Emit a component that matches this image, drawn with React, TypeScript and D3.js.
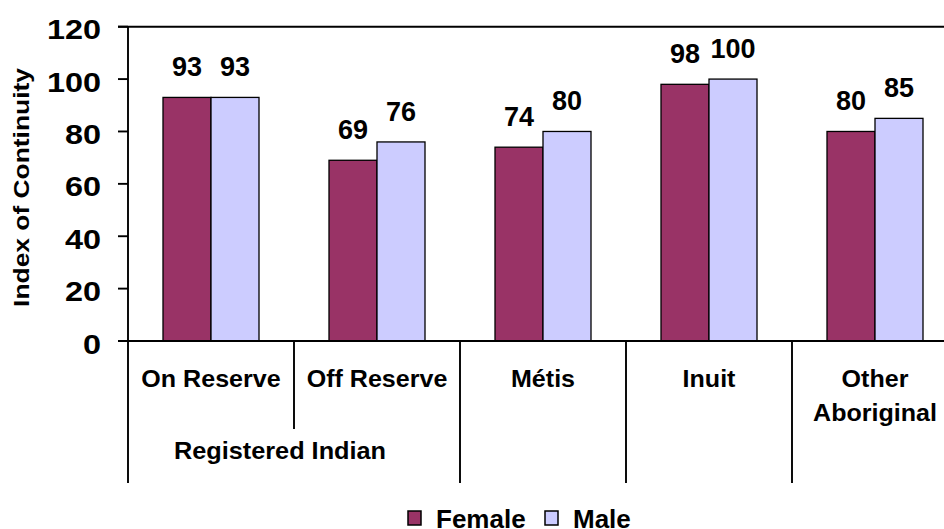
import React from "react";
import * as d3 from "d3";

// Categories along the x axis (multi-line labels split on "\n")
const categories = ["On Reserve", "Off Reserve", "Métis", "Inuit", "Other\nAboriginal"];
const groupLabel = "Registered Indian";
const seriesNames = ["Female", "Male"];
const femaleValues = [93, 69, 74, 98, 80];
const maleValues = [93, 76, 80, 100, 85];
const yTicks = [0, 20, 40, 60, 80, 100, 120];
const yTitle = "Index of Continuity";

const colors: Record<string, string> = { Female: "#993366", Male: "#CCCCFF" };

const W = 944;
const H = 529;
const FONT = "'Liberation Sans', Arial, Helvetica, sans-serif";

export default function App() {
  const plotLeft = 128;
  const plotRight = 958;
  const plotTop = 26.7;
  const plotBottom = 341;

  const x = d3.scaleBand<string>().domain(categories).range([plotLeft, plotRight]).paddingInner(0).paddingOuter(0);
  const xSub = d3.scaleBand<string>().domain(seriesNames).range([35, 131]);
  const y = d3.scaleLinear().domain([0, 120]).range([plotBottom, plotTop]);

  const seriesValues: Record<string, number[]> = { Female: femaleValues, Male: maleValues };
  const lineW = 1.9;

  // category boundaries, used for the separators under the axis
  const boundaries = categories.map((c) => x(c) as number);

  return (
    <svg
      width={W}
      height={H}
      style={{ position: "absolute", left: 0, top: 0, background: "#fff" }}
      fontFamily={FONT}
      fontWeight="bold"
    >
      <rect x={0} y={0} width={W} height={H} fill="#fff" />

      {/* bars with value labels */}
      {categories.map((c, i) =>
        seriesNames.map((s) => {
          const v = seriesValues[s][i];
          const bx = (x(c) as number) + (xSub(s) as number);
          const bw = xSub.bandwidth();
          return (
            <g key={c + s}>
              <rect
                x={bx}
                y={y(v)}
                width={bw}
                height={y(0) - y(v)}
                fill={colors[s]}
                stroke="#000"
                strokeWidth={1.3}
              />
              <text x={bx + bw / 2} y={y(v) - 21} textAnchor="middle" fontSize={27} fill="#000">
                {v}
              </text>
            </g>
          );
        })
      )}

      {/* frame top line and baseline */}
      <line x1={118} x2={W} y1={y(120)} y2={y(120)} stroke="#000" strokeWidth={lineW} />
      <line x1={118} x2={W} y1={y(0)} y2={y(0)} stroke="#000" strokeWidth={lineW} />
      {/* y axis */}
      <line x1={plotLeft} x2={plotLeft} y1={y(120)} y2={y(0)} stroke="#000" strokeWidth={lineW} />
      {yTicks.map((t) => (
        <g key={t}>
          <line x1={118} x2={plotLeft} y1={y(t)} y2={y(t)} stroke="#000" strokeWidth={lineW} />
          <text
            transform={`translate(101, ${y(t) + 12.5}) scale(1.2,1)`}
            textAnchor="end"
            fontSize={27}
            fill="#000"
          >
            {t}
          </text>
        </g>
      ))}

      {/* y axis title */}
      <text
        transform={`translate(28.5, 187.5) rotate(-90) scale(1.2,1)`}
        textAnchor="middle"
        fontSize={22}
        fill="#000"
      >
        {yTitle}
      </text>

      {/* category separators below the axis */}
      {boundaries.map((bx, i) => (
        <line
          key={"sep" + i}
          x1={bx}
          x2={bx}
          y1={y(0)}
          y2={i === 1 ? 429 : 483}
          stroke="#000"
          strokeWidth={lineW}
        />
      ))}

      {/* category labels */}
      {categories.map((c) => {
        const cx = (x(c) as number) + x.bandwidth() / 2;
        const lines = c.split("\n");
        return (
          <g key={"lab" + c}>
            {lines.map((ln, j) => (
              <text
                key={j}
                transform={`translate(${cx}, ${387 + j * 33.7}) scale(1.09,1)`}
                textAnchor="middle"
                fontSize={23}
                fill="#000"
              >
                {ln}
              </text>
            ))}
          </g>
        );
      })}

      {/* group label spanning the first two categories */}
      <text
        transform={`translate(280, 459.3) scale(1.1,1)`}
        textAnchor="middle"
        fontSize={23}
        fill="#000"
      >
        {groupLabel}
      </text>

      {/* legend */}
      {seriesNames.map((s, i) => {
        const lx = i === 0 ? 408 : 545;
        return (
          <g key={"leg" + s}>
            <rect x={lx} y={511} width={13} height={14} fill={colors[s]} stroke="#000" strokeWidth={1.5} />
            <text x={lx + 28} y={527.5} fontSize={26} fill="#000">
              {s}
            </text>
          </g>
        );
      })}
    </svg>
  );
}
